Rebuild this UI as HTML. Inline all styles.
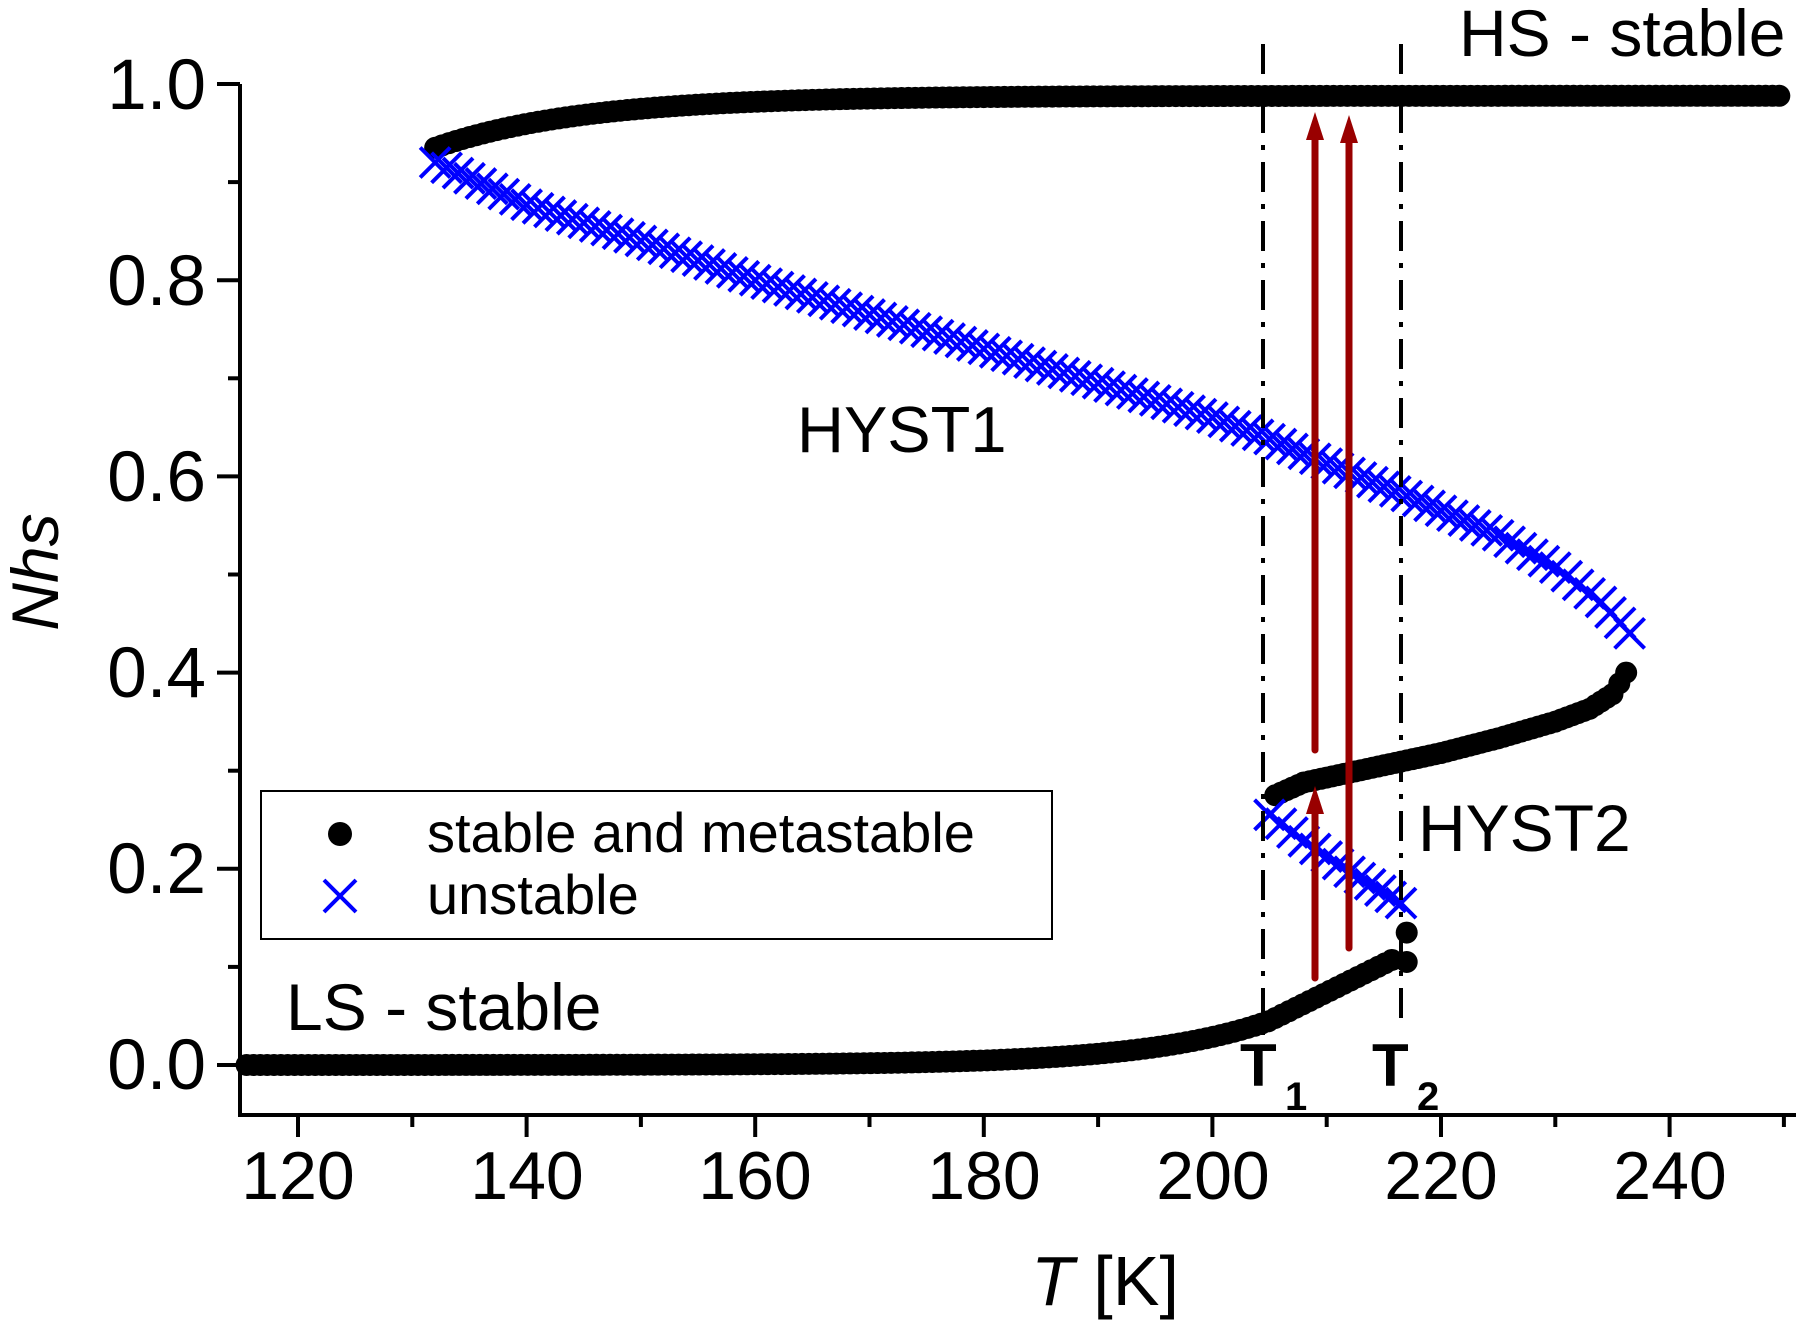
<!DOCTYPE html>
<html><head><meta charset="utf-8"><style>
html,body{margin:0;padding:0;background:#fff}
svg{display:block}
text{font-family:"Liberation Sans",Arial,sans-serif;fill:#000}
</style></head><body>
<svg id="s" width="1802" height="1326" viewBox="0 0 1802 1326" xmlns="http://www.w3.org/2000/svg">
<g id="data"></g>
<line x1="240" y1="84" x2="240" y2="1116" stroke="#000" stroke-width="4"/>
<line x1="238" y1="1115" x2="1796" y2="1115" stroke="#000" stroke-width="4"/>
<g id="ticks" stroke="#000" stroke-width="4"></g>
<g font-size="71" text-anchor="end">
<text x="206" y="109">1.0</text>
<text x="206" y="305">0.8</text>
<text x="206" y="501">0.6</text>
<text x="206" y="697">0.4</text>
<text x="206" y="893">0.2</text>
<text x="206" y="1089">0.0</text>
</g>
<g font-size="68" text-anchor="middle">
<text x="298" y="1199">120</text>
<text x="527" y="1199">140</text>
<text x="755" y="1199">160</text>
<text x="984" y="1199">180</text>
<text x="1213" y="1199">200</text>
<text x="1441" y="1199">220</text>
<text x="1670" y="1199">240</text>
</g>
<text x="1105" y="1305" font-size="70" text-anchor="middle"><tspan font-style="italic">T</tspan> [K]</text>
<text transform="translate(58,572) rotate(-90)" font-size="66" font-style="italic" text-anchor="middle">Nhs</text>
<line x1="1263" y1="44" x2="1263" y2="1040" stroke="#000" stroke-width="4" stroke-dasharray="30,12,5,12"/>
<line x1="1401" y1="44" x2="1401" y2="1025" stroke="#000" stroke-width="4" stroke-dasharray="30,12,5,12"/>
<g stroke="#990000" stroke-width="7" stroke-linecap="round" fill="#990000">
<line x1="1315" y1="978" x2="1315" y2="810"/>
<polygon points="1315,786 1306,814 1324,814" stroke="none"/>
<line x1="1315" y1="750" x2="1315" y2="135"/>
<polygon points="1315,112 1306,140 1324,140" stroke="none"/>
<line x1="1349" y1="948" x2="1349" y2="138"/>
<polygon points="1349,115 1340,143 1358,143" stroke="none"/>
</g>
<g font-weight="bold">
<text x="1240" y="1086" font-size="60">T</text><text x="1285" y="1110" font-size="40">1</text>
<text x="1372" y="1086" font-size="60">T</text><text x="1417" y="1110" font-size="40">2</text>
</g>
<text x="1418" y="851" font-size="66">HYST2</text>
<text x="797" y="452" font-size="65">HYST1</text>
<text x="1459" y="56" font-size="66">HS - stable</text>
<text x="286" y="1030" font-size="66">LS - stable</text>
<rect x="261" y="791" width="791" height="148" fill="#fff" stroke="#000" stroke-width="2"/>
<circle cx="340" cy="834" r="12" fill="#000"/>
<g stroke="#0000ff" stroke-width="4"><line x1="324" y1="880" x2="356" y2="912"/><line x1="356" y1="880" x2="324" y2="912"/></g>
<text x="427" y="852" font-size="56">stable and metastable</text>
<text x="427" y="914" font-size="56">unstable</text>
</svg>
<script>
const NS="http://www.w3.org/2000/svg";
const X=T=>298+(T-120)*11.43, Y=v=>1065-v*981;
const g=document.getElementById('data'), tk=document.getElementById('ticks');
function el(n,a,p){const e=document.createElementNS(NS,n);for(const k in a)e.setAttribute(k,a[k]);(p||g).appendChild(e);return e;}
function dot(T,v){el('circle',{cx:X(T),cy:Y(v),r:11,fill:'#000'});}
function cross(T,v){const x=X(T),y=Y(v),d=15;el('path',{d:`M${x-d},${y-d}L${x+d},${y+d}M${x+d},${y-d}L${x-d},${y+d}`,stroke:'#0000ff','stroke-width':4,fill:'none'});}
function interp(pts,step,f){for(let i=0;i<pts.length-1;i++){const [a,b]=[pts[i],pts[i+1]];const n=Math.max(1,Math.round(Math.abs(b[0]-a[0])/step));for(let j=0;j<n;j++){const t=j/n;f(a[0]+(b[0]-a[0])*t,a[1]+(b[1]-a[1])*t);}}f(...pts[pts.length-1]);}
for(let T=120;T<=250;T+=10){const maj=T%20==0;el('line',{x1:X(T),y1:1115,x2:X(T),y2:1115+(maj?22:12)},tk);}
for(let v=0;v<=1.001;v+=0.1){const maj=Math.round(v*10)%2==0;el('line',{x1:240,y1:Y(v),x2:240-(maj?23:12),y2:Y(v)},tk);}
for(let T=115.5;T<=216;T+=0.6){let v=T<=205?0.045*Math.exp((T-205)/11):0.045+(T-205)*0.0058;dot(T,v);}
dot(217,0.105);dot(217,0.135);
for(let T=132;T<=250;T+=0.6){dot(T,0.988-0.053*Math.exp(-(T-132)/13));}
interp([[205.5,0.275],[208,0.288],[212,0.298],[216,0.308],[220,0.318],[225,0.333],[230,0.35],[233,0.363],[235,0.378],[236.2,0.40]],0.5,dot);
interp([[132,0.92],[140,0.877],[150,0.84],[160,0.8],[170,0.765],[180,0.73],[190,0.695],[200,0.66],[205,0.638],[210,0.613],[217,0.58],[225,0.54],[230,0.507],[234,0.472],[236.5,0.44]],1.0,cross);
interp([[205,0.255],[208,0.228],[212,0.197],[216.5,0.165]],1.0,cross);
</script>
</body></html>
